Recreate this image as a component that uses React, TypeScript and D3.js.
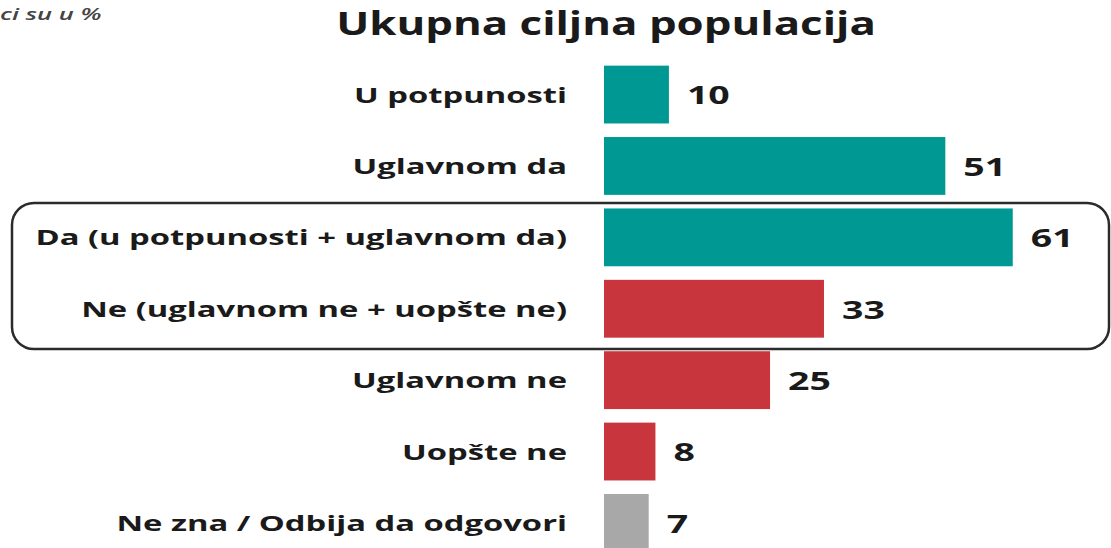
import React from "react";
import * as d3 from "d3";

const categories = [
  "U potpunosti",
  "Uglavnom da",
  "Da (u potpunosti + uglavnom da)",
  "Ne (uglavnom ne + uopšte ne)",
  "Uglavnom ne",
  "Uopšte ne",
  "Ne zna / Odbija da odgovori",
];
const values = [10, 51, 61, 33, 25, 8, 7];
const groups = ["yes", "yes", "yes", "no", "no", "no", "dk"];
const title = "Ukupna ciljna populacija";
const note = "ci su u %";

const colors: Record<string, string> = { yes: "#009893", no: "#C9353C", dk: "#A8A8A8" };

const W = 1111;
const H = 548;
const SX_LABEL = 1.56;
const SX_VALUE = 1.5;
const SX_TITLE = 1.37;

export default function App() {
  const x = d3.scaleLinear().domain([0, 61]).range([601.5, 1012.75]);
  const y = d3
    .scaleBand<string>()
    .domain(categories)
    .range([58.5, 559])
    .paddingInner(0.19)
    .paddingOuter(0.1);
  const bx = 604;
  const font = "'Open Sans', 'DejaVu Sans', sans-serif";
  return (
    <svg
      width={W}
      height={H}
      style={{ position: "absolute", left: 0, top: 0, background: "#fff" }}
      fontFamily={font}
    >
      <text
        x={0}
        y={0}
        fontSize={17}
        fontStyle="italic"
        fontWeight={600}
        fill="#444"
        transform={`translate(0,19.5) scale(1.5,1)`}
      >
        {note}
      </text>
      <text
        x={0}
        y={0}
        textAnchor="middle"
        fontSize={32}
        fontWeight={700}
        fill="#1a1a1a"
        transform={`translate(606,35) scale(${SX_TITLE},1)`}
      >
        {title}
      </text>
      <rect
        x={12}
        y={203}
        width={1097}
        height={146}
        rx={22}
        ry={22}
        fill="none"
        stroke="#2b2b2b"
        strokeWidth={2.5}
      />
      {categories.map((c, i) => {
        const yy = y(c) as number;
        const h = y.bandwidth();
        const cy = yy + h / 2;
        return (
          <g key={c}>
            <rect x={bx} y={yy} width={x(values[i]) - bx} height={h} fill={colors[groups[i]]} />
            <text
              x={0}
              y={0}
              textAnchor="end"
              dominantBaseline="central"
              fontSize={21}
              fontWeight={700}
              fill="#1a1a1a"
              transform={`translate(567,${cy}) scale(${SX_LABEL},1)`}
            >
              {c}
            </text>
            <text
              x={0}
              y={0}
              dominantBaseline="central"
              fontSize={25}
              fontWeight={700}
              fill="#1a1a1a"
              transform={`translate(${x(values[i]) + 18},${cy}) scale(${SX_VALUE},1)`}
            >
              {values[i]}
            </text>
          </g>
        );
      })}
    </svg>
  );
}
